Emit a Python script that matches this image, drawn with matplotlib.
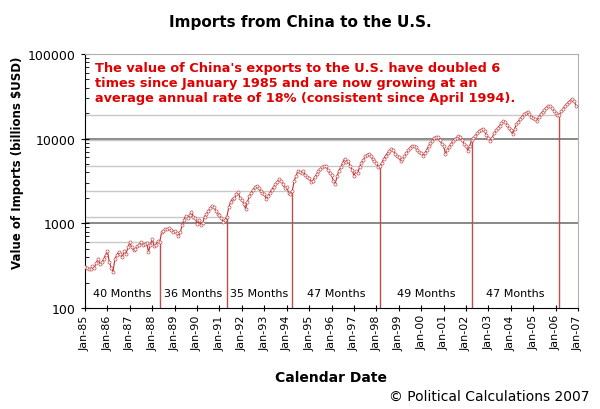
import matplotlib
matplotlib.use("Agg")
import matplotlib.pyplot as plt
import matplotlib.ticker as mticker
import numpy as np

# monthly imports, Jan 1985 .. Dec 2006
imports = {
    1985: [306, 295, 285, 290, 310, 300, 340, 380, 330, 345, 380, 420],
    1986: [470, 350, 300, 267, 380, 420, 460, 430, 400, 470, 440, 520],
    1987: [600, 520, 480, 500, 540, 560, 600, 560, 570, 590, 460, 560],
    1988: [650, 540, 560, 620, 600, 780, 820, 860, 850, 870, 830, 800],
    1989: [820, 760, 710, 780, 950, 1100, 1230, 1150, 1250, 1370, 1200, 1150],
    1990: [990, 1100, 960, 1000, 1200, 1300, 1400, 1500, 1610, 1550, 1400, 1300],
    1991: [1250, 1150, 1040, 1100, 1200, 1550, 1800, 1950, 2000, 2200, 2360, 2000],
    1992: [1900, 1700, 1490, 1800, 2100, 2300, 2500, 2650, 2780, 2600, 2400, 2300],
    1993: [2200, 1950, 2100, 2300, 2500, 2700, 2900, 3100, 3370, 3200, 2900, 2600],
    1994: [2700, 2300, 2240, 2400, 3200, 3600, 4180, 4000, 3900, 4100, 3700, 3500],
    1995: [3400, 3090, 3200, 3500, 3800, 4200, 4400, 4600, 4800, 4700, 4300, 3900],
    1996: [3700, 3200, 2940, 3600, 4200, 4600, 5200, 5800, 5300, 5400, 4800, 4300],
    1997: [3660, 4100, 3900, 4600, 5200, 5600, 6200, 6400, 6630, 6300, 5700, 5500],
    1998: [5200, 4650, 4800, 5200, 5800, 6300, 6800, 7200, 7600, 7400, 6600, 6200],
    1999: [6000, 5500, 5700, 6200, 6700, 7300, 7800, 8260, 8100, 7900, 7300, 6900],
    2000: [6800, 6300, 6700, 7400, 8100, 8900, 9500, 10200, 10600, 10400, 9600, 8700],
    2001: [8300, 6630, 7400, 8000, 8700, 9400, 9800, 10300, 10800, 10500, 9600, 8600],
    2002: [8300, 7200, 8200, 9600, 10200, 10800, 11600, 12300, 12800, 13100, 12200, 11100],
    2003: [10300, 9400, 10200, 11600, 12500, 13300, 14300, 15200, 16300, 15900, 14600, 13200],
    2004: [12500, 11300, 13000, 14800, 15900, 17200, 18200, 19300, 20000, 20800, 19500, 18200],
    2005: [17400, 17000, 16300, 18200, 19500, 20800, 22000, 23300, 24500, 24000, 23000, 21500],
    2006: [20300, 18800, 19200, 21000, 22700, 24200, 25800, 27200, 28500, 29700, 27500, 24500],
}

# months (counted from Jan 1985) where the value doubled, and the level reached
doubling_idx = [40, 76, 111, 158, 207, 254]
doubling_val = [600, 1200, 2400, 4800, 9600, 19200]

years = list(range(1985, 2008))
tick_labels = ["Jan-%02d" % (y % 100) for y in years]

note = ("The value of China's exports to the U.S. have doubled 6\n"
        "times since January 1985 and are now growing at an\n"
        "average annual rate of 18% (consistent since April 1994).")

values = np.concatenate([imports[y] for y in sorted(imports)])
t = 1985 + np.arange(len(values)) / 12.0

fig = plt.figure(figsize=(6, 4.1), dpi=100)
ax = fig.add_axes([85 / 600, 101 / 410, 493 / 600, 254 / 410])

ax.set_yscale("log")
ax.set_ylim(100, 100000)
ax.set_xlim(1985, 2007)

# dark gridlines at 1000 and 10000
for g in [1000, 10000]:
    ax.axhline(g, color="#7f7f7f", lw=1.3, zorder=1)

# doubling markers: horizontal from axis, vertical from bottom
for i, v in zip(doubling_idx, doubling_val):
    xd = 1985 + i / 12.0
    ax.plot([1985, xd], [v, v], color="#c8c8c8", lw=1, zorder=1)
    ax.plot([xd, xd], [100, v], color="#b85050", lw=1, zorder=2)

ax.plot(t, values, color="#c03030", lw=0.8, marker="o", ms=2.2,
        mfc="white", mec="#c05050", mew=0.5, zorder=3)

# month counts between doublings
starts = [0] + doubling_idx[:-1]
for a, b in zip(starts, doubling_idx):
    xm = 1985 + (a + b) / 24.0
    ax.text(xm, 0.058, "%d Months" % (b - a), transform=ax.get_xaxis_transform(),
            ha="center", va="center", fontsize=8)

ax.text(0.021, 0.972, note, transform=ax.transAxes, ha="left", va="top",
        fontsize=9.3, fontweight="bold", color="#e00000", linespacing=1.17)

ax.set_xticks(years)
ax.set_xticklabels(tick_labels, rotation=90, fontsize=8)
ax.yaxis.set_major_formatter(mticker.FuncFormatter(lambda v, p: "%d" % v))
ax.yaxis.set_minor_formatter(mticker.NullFormatter())
ax.tick_params(axis="y", which="major", direction="inout", length=6, labelsize=9)
ax.tick_params(axis="y", which="minor", direction="in", length=3)
ax.tick_params(axis="x", which="major", direction="inout", length=5, pad=2)

for s in ["top", "right"]:
    ax.spines[s].set_color("#b0b0b0")
for s in ["left", "bottom"]:
    ax.spines[s].set_color("black")

fig.text(0.5, 0.946, "Imports from China to the U.S.", ha="center", va="center",
         fontsize=11, fontweight="bold")
fig.text(0.03, 0.602, "Value of Imports (billions $USD)", rotation=90,
         ha="center", va="center", fontsize=8.5, fontweight="bold")
fig.text(0.552, 0.078, "Calendar Date", ha="center", va="center",
         fontsize=10, fontweight="bold")
fig.text(0.982, 0.032, "\u00a9 Political Calculations 2007", ha="right",
         va="center", fontsize=10)

fig.savefig("out.png", dpi=100)
